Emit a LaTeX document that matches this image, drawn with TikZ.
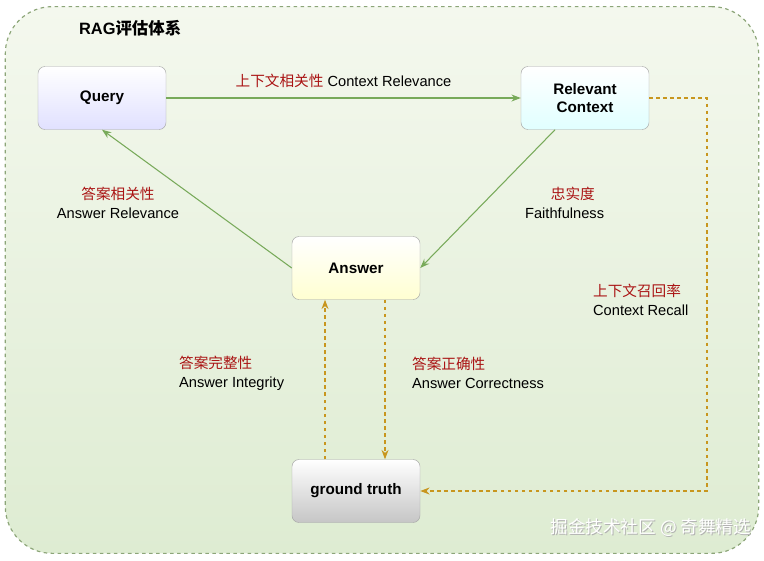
\documentclass[tikz,border=0pt]{standalone}
\usepackage{fontspec}
\setmainfont{Liberation Sans}
\newfontfamily\cjk{Noto Sans CJK SC}
\usetikzlibrary{arrows.meta}
\definecolor{edgegreen}{RGB}{120,170,90}
\definecolor{framegreen}{RGB}{140,165,120}
\definecolor{bgtop}{RGB}{244,248,238}
\definecolor{bgbot}{RGB}{222,236,210}
\definecolor{dashgold}{RGB}{200,150,30}
\definecolor{labelred}{RGB}{170,20,20}
\tikzset{
  box/.style={draw=gray!70, rounded corners=6pt, minimum width=3.84cm, minimum height=1.89cm, font=\bfseries\fontsize{13}{15}\selectfont, align=center},
  solidarr/.style={draw=edgegreen, line width=0.9pt, -{Stealth[length=8pt]}},
  dasharr/.style={draw=dashgold, line width=1pt, dashed, -{Stealth[length=8pt]}},
  lbl/.style={font=\fontsize{12.5}{16}\selectfont, align=center}
}
\newcommand{\cn}[1]{{\cjk\color{labelred}#1}}
\begin{document}
\begin{tikzpicture}[x=0.03cm,y=-0.03cm]
    \useasboundingbox (0,0) rectangle (764,560);
    \node[draw=framegreen, dashed, line width=1pt, rounded corners=40pt, top color=bgtop, bottom color=bgbot, minimum width=22.6cm, minimum height=16.4cm] (frame) at (382,280) {};
    \node[anchor=west, font=\bfseries\fontsize{14}{16}\selectfont] (title) at (75,28) {RAG{\cjk 评估体系}};

    \node[box, top color=white, bottom color=blue!12!white] (query) at (102,98) {Query};
    \node[box, top color=white, bottom color=cyan!12!white] (context) at (585,98) {Relevant\\Context};
    \node[box, top color=white, bottom color=yellow!18!white] (answer) at (356,268) {Answer};
    \node[box, top color=white, bottom color=gray!45!white] (truth) at (356,491) {ground truth};

    \draw[solidarr] (query) -- node[lbl, above=5pt] {\cn{上下文相关性} Context Relevance} (context);
    \draw[solidarr] (context.south) ++(-30,0) coordinate (cs) (cs) -- (answer.east);
    \draw[solidarr] (answer.west) -- (query.south);

    \node[lbl] (lar) at (118,203) {\cn{答案相关性}\\Answer Relevance};
    \node[lbl, align=left, anchor=west] (lff) at (521,203) {\hspace*{22pt}\cn{忠实度}\\Faithfulness};

    \draw[dasharr] ([xshift=29*0.03cm]answer.south) -- ([xshift=29*0.03cm]truth.north);
    \draw[dasharr] ([xshift=-31*0.03cm]truth.north) -- ([xshift=-31*0.03cm]answer.south);
    \node[lbl, align=left, anchor=west] (lac) at (408,373) {\cn{答案正确性}\\Answer Correctness};
    \node[lbl, align=left, anchor=west] (lai) at (175,373) {\cn{答案完整性}\\Answer Integrity};

    \coordinate (rtop) at (707,98);
    \coordinate (rbot) at (707,491);
    \draw[dasharr] (context.east) -- (rtop) -- (rbot) -- (truth.east);
    \node[lbl, align=left, anchor=west] (lcr) at (589,300) {\cn{上下文召回率}\\Context Recall};

    \node[anchor=east, text=gray!60, font=\cjk\fontsize{15}{17}\selectfont] (shadow) at (756,529) {掘金技术社区 @ 奇舞精选};
    \node[anchor=east, text=white, font=\cjk\fontsize{15}{17}\selectfont] (mark) at (755,528) {掘金技术社区 @ 奇舞精选};
\end{tikzpicture}
\end{document}
